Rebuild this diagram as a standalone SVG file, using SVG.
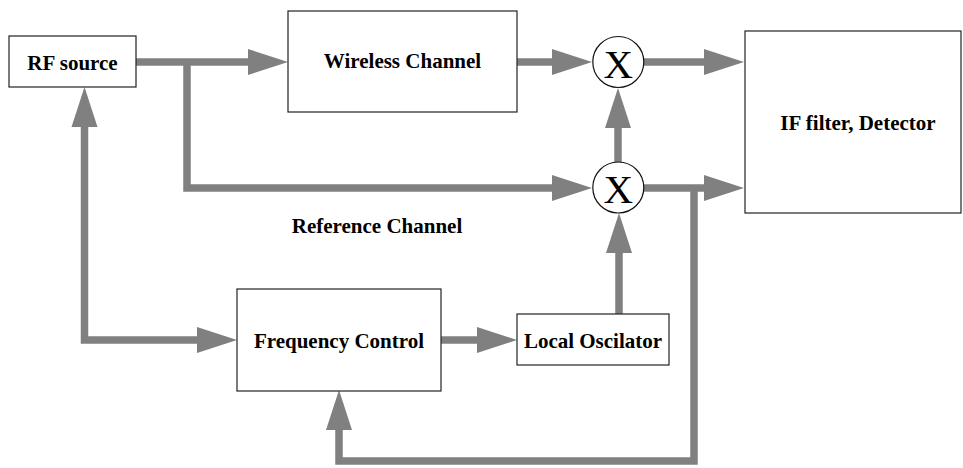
<svg xmlns="http://www.w3.org/2000/svg" width="963" height="468" viewBox="0 0 963 468">
<style>
.box{fill:#fff;stroke:#222;stroke-width:1.2}
.mix{fill:#fff;stroke:#111;stroke-width:1.2}
.lbl{font-family:"Liberation Serif","Times New Roman",serif;font-weight:bold;font-size:21px;fill:#000;text-anchor:middle}
.x{font-family:"Liberation Serif","Times New Roman",serif;font-size:41px;fill:#000;text-anchor:middle}
.c{fill:none;stroke:#808080;stroke-width:7.5;stroke-linejoin:miter;stroke-linecap:butt}
.a{marker-end:url(#ah)}
</style>
<defs>
<marker id="ah" markerUnits="userSpaceOnUse" markerWidth="41" markerHeight="27" refX="0" refY="13" orient="auto-start-reverse" overflow="visible">
<path d="M0,0 L40,13 L0,26 Z" fill="#808080"/>
</marker>
</defs>
<rect width="963" height="468" fill="#fff"/>
<g id="connectors">
<path class="c a" d="M136,62 H248"/>
<path class="c a" d="M187,62 V188 H552"/>
<path class="c a" d="M517,62 H552"/>
<path class="c a" d="M644,62 H704"/>
<path class="c a" d="M644,188 H704"/>
<path class="c a" d="M618,162 V128"/>
<path class="c a" d="M619,314 V253"/>
<path class="c a" d="M441,340 H477"/>
<path class="c a" d="M694,188 V461 H339 V430"/>
<path class="c a" d="M197,340 H84.5 V127" marker-start="url(#ah)"/>
</g>
<g id="rf-source">
<rect class="box" x="9" y="36" width="127" height="51"/>
<text class="lbl" x="72.5" y="70">RF source</text>
</g>
<g id="wireless-channel">
<rect class="box" x="288" y="11" width="229" height="101"/>
<text class="lbl" x="402.5" y="68">Wireless Channel</text>
</g>
<g id="mixer-1">
<circle class="mix" cx="618.3" cy="62" r="25.5"/>
<text class="x" x="618.3" y="78">X</text>
</g>
<g id="mixer-2">
<circle class="mix" cx="618.3" cy="187.5" r="25.5"/>
<text class="x" x="618.3" y="203">X</text>
</g>
<g id="if-filter-detector">
<rect class="box" x="745" y="31" width="216" height="182"/>
<text class="lbl" x="858" y="130">IF filter, Detector</text>
</g>
<g id="reference-channel-label">
<text class="lbl" x="377" y="233">Reference Channel</text>
</g>
<g id="frequency-control">
<rect class="box" x="237" y="289" width="204" height="102"/>
<text class="lbl" x="339" y="348">Frequency Control</text>
</g>
<g id="local-oscilator">
<rect class="box" x="517" y="314" width="152" height="51"/>
<text class="lbl" x="593" y="348">Local Oscilator</text>
</g>
</svg>
